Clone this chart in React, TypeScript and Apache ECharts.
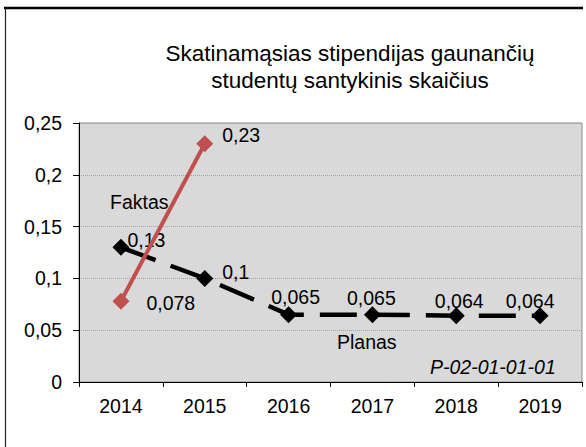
import React, { useEffect, useRef } from "react";
import * as echarts from "echarts";

const categories = ["2014", "2015", "2016", "2017", "2018", "2019"];
const planasValues = [0.13, 0.1, 0.065, 0.065, 0.064, 0.064];
const faktasValues: (number | null)[] = [0.078, 0.23, null, null, null, null];
const yMin = 0;
const yMax = 0.25;
const yInterval = 0.05;
const titleLines = ["Skatinamąsias stipendijas gaunančių", "studentų santykinis skaičius"];
const planasName = "Planas";
const faktasName = "Faktas";
const codeText = "P-02-01-01-01";

// label placements (style only)
const planasLabelPlacement = [
  { position: "right", distance: -2, offset: [0, -7] },
  { position: "right", distance: 9, offset: [0, -6] },
  { position: "top", distance: -1, offset: [7, 0] },
  { position: "top", distance: -2, offset: [-1, 0] },
  { position: "top", distance: -4, offset: [3, 0] },
  { position: "top", distance: -4, offset: [-10, 0] },
];
const faktasLabelPlacement = [
  { position: "right", distance: 17, offset: [0, 2] },
  { position: "right", distance: 9, offset: [0, -9] },
];

const FONT = "'Liberation Sans', Arial, sans-serif";
const FS = 19.5;
const fmt = (v: number) => String(v).replace(".", ",");

export default function App() {
  const ref = useRef<HTMLDivElement>(null);
  useEffect(() => {
    if (!ref.current) return;
    const chart = echarts.init(ref.current, undefined, { renderer: "svg" });
    const labelBase = {
      show: true,
      color: "#000",
      fontSize: FS,
      fontFamily: FONT,
      formatter: (p: any) => fmt(p.value),
    };
    chart.setOption({
      animation: false,
      backgroundColor: "#fff",
      title: {
        text: titleLines.join("\n"),
        left: 345,
        top: 35,
        textAlign: "center",
        textStyle: {
          fontFamily: FONT,
          fontSize: 22.5,
          fontWeight: "normal",
          color: "#000",
          lineHeight: 27,
        },
      },
      grid: {
        left: 79,
        right: 4,
        top: 123,
        bottom: 65,
        show: true,
        backgroundColor: "#d9d9d9",
        borderColor: "#8c8c8c",
        borderWidth: 1,
      },
      xAxis: {
        type: "category",
        data: categories,
        boundaryGap: true,
        axisLine: { lineStyle: { color: "#000", width: 1 } },
        axisTick: { show: true, length: 5, lineStyle: { color: "#000" } },
        axisLabel: { color: "#000", fontSize: FS, fontFamily: FONT, margin: 14 },
      },
      yAxis: {
        type: "value",
        min: yMin,
        max: yMax,
        interval: yInterval,
        axisLine: { show: true, lineStyle: { color: "#000", width: 1 } },
        axisTick: { show: true, length: 6, lineStyle: { color: "#000" } },
        axisLabel: {
          color: "#000",
          fontSize: FS,
          fontFamily: FONT,
          margin: 17,
          formatter: (v: number) => fmt(Number(v.toFixed(2))),
        },
        splitLine: { show: true, lineStyle: { color: "#a0a0a0", type: "dotted", width: 1 } },
      },
      series: [
        {
          name: planasName,
          type: "line",
          data: planasValues.map((v, i) => ({
            value: v,
            label: { ...labelBase, ...planasLabelPlacement[i] },
          })),
          symbol: "diamond",
          symbolSize: 17,
          itemStyle: { color: "#000" },
          lineStyle: { color: "#000", width: 4.5, type: [37, 16] },
          label: labelBase,
          z: 2,
        },
        {
          name: faktasName,
          type: "line",
          data: faktasValues.map((v, i) => ({
            value: v,
            label: { ...labelBase, ...(faktasLabelPlacement[i] || {}) },
          })),
          symbol: "diamond",
          symbolSize: 17,
          itemStyle: { color: "#c0504d" },
          lineStyle: { color: "#c0504d", width: 4 },
          label: labelBase,
          z: 3,
        },
      ],
      graphic: [
        {
          type: "line",
          shape: { x1: 4, y1: 8, x2: 583, y2: 8 },
          style: { stroke: "#000", lineWidth: 2.5 },
          silent: true,
        },
        {
          type: "line",
          shape: { x1: 5.5, y1: 8, x2: 5.5, y2: 447 },
          style: { stroke: "#222", lineWidth: 1.2 },
          silent: true,
        },
        {
          type: "text",
          x: 110,
          y: 202,
          style: {
            text: faktasName,
            fill: "#000",
            font: `${FS}px ${FONT}`,
            textVerticalAlign: "middle",
          },
          z: 10,
        },
        {
          type: "text",
          x: 337,
          y: 342,
          style: {
            text: planasName,
            fill: "#000",
            font: `${FS}px ${FONT}`,
            textVerticalAlign: "middle",
          },
          z: 10,
        },
        {
          type: "text",
          x: 430,
          y: 367,
          style: {
            text: codeText,
            fill: "#000",
            font: `italic ${FS}px ${FONT}`,
            textVerticalAlign: "middle",
          },
          z: 10,
        },
      ],
    });
    return () => chart.dispose();
  }, []);
  return (
    <div
      ref={ref}
      style={{ position: "fixed", left: 0, top: 0, width: 586, height: 447 }}
    />
  );
}
